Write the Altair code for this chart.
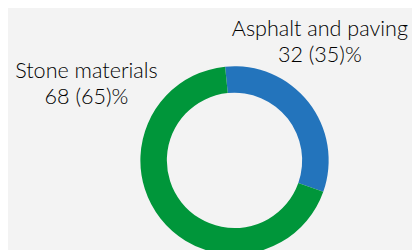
import math
import altair as alt
import pandas as pd

categories = ["Asphalt and paving", "Stone materials"]
values = [32, 68]
previous = [35, 65]
colors = ["#2374bc", "#00963a"]

labels = [f"{c}\n{v} ({p})%" for c, v, p in zip(categories, values, previous)]
df = pd.DataFrame({"category": categories, "value": values, "label": labels, "order": [0, 1]})

start = -0.1
arc = alt.Chart(df).mark_arc(outerRadius=96, innerRadius=69, stroke=None).encode(
    theta=alt.Theta("value:Q", stack=True, scale=alt.Scale(range=[start, start + 2 * math.pi])),
    color=alt.Color("category:N", scale=alt.Scale(domain=categories, range=colors), legend=None),
    order=alt.Order("order:Q"),
    x=alt.value(231),
    y=alt.value(153),
)

def label(i, x, y):
    return alt.Chart(df.iloc[[i]]).mark_text(
        font="Lato", fontSize=22, fontWeight=300, color="#000000",
        align="center", baseline="alphabetic", lineBreak="\n", lineHeight=27,
    ).encode(text="label:N", x=alt.value(x), y=alt.value(y))

chart = alt.layer(arc, label(0, 318, 26), label(1, 80, 69)).properties(
    width=412, height=242, autosize=alt.AutoSizeParams(type="none"), padding=0,
    background="#f3f3f3",
).configure_view(stroke=None)

chart.save("out.html", embed_options={"renderer": "svg", "actions": False})
